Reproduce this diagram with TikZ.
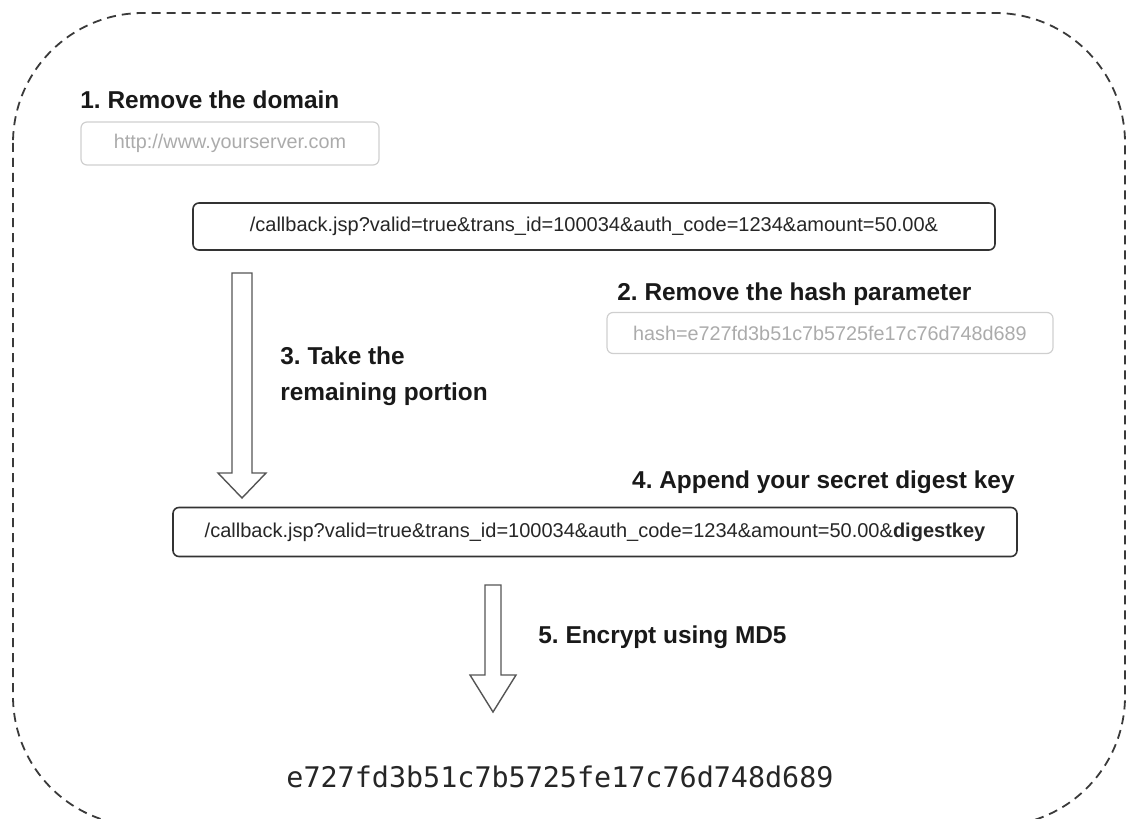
\documentclass[tikz,border=0pt]{standalone}
\usepackage{fontspec}
\setmainfont{Liberation Sans}
\newfontfamily\hashfont{DejaVu Sans Mono}
\usetikzlibrary{calc}
\frenchspacing

\definecolor{dashgray}{HTML}{3A3A3A}
\definecolor{boxdark}{HTML}{333333}
\definecolor{boxlight}{HTML}{CFCFCF}
\definecolor{textlight}{HTML}{ABABAB}
\definecolor{arrowgray}{HTML}{555555}

% hollow block arrow: top, tip, half shaft, half head, head length
\newcommand{\blockarrow}[5]{%
  \draw[hollow] ($(#1)+(-#3,0)$) -- ($(#2)+(-#3,-#5)$) -- ($(#2)+(-#4,-#5)$) -- (#2)
    -- ($(#2)+(#4,-#5)$) -- ($(#2)+(#3,-#5)$) -- ($(#1)+(#3,0)$) -- cycle;}

\begin{document}
\begin{tikzpicture}[
  x=0.5pt, y=-0.5pt,
  steplabel/.style={font=\fontsize{12.2}{18}\selectfont\bfseries, text=black!90, inner sep=0pt},
  urlbox/.style={rectangle, rounded corners=3pt, draw=boxdark, line width=0.8pt, font=\fontsize{10}{12}\selectfont, text=black!85},
  dropbox/.style={rectangle, rounded corners=3pt, draw=boxlight, line width=0.6pt, font=\fontsize{9.9}{12}\selectfont, text=textlight},
  hollow/.style={draw=arrowgray, line width=0.7pt, fill=white}
]
\useasboundingbox (0,0) rectangle (1127,818);
\draw[dashgray, line width=0.9pt, dash pattern=on 4.5pt off 3pt, rounded corners=65pt] (13,13) rectangle (1125,826);

\node[steplabel, anchor=base west] (domainlbl) at (80,109) {1. Remove the domain};
\node[dropbox, minimum width=149pt, minimum height=21.5pt] (domain) at (230,143.5) {http://www.yourserver.com};

\node[urlbox, minimum width=401pt, minimum height=23.5pt] (callback) at (594,226.5)
  {/callback.jsp?valid=true\&trans\_id=100034\&auth\_code=1234\&amount=50.00\&};

\node[steplabel, anchor=base west] (hashlbl) at (617,300) {2. Remove the hash parameter};
\node[dropbox, minimum width=223pt, minimum height=20.5pt] (hash) at (830,333) {hash=e727fd3b51c7b5725fe17c76d748d689};

\node[steplabel, anchor=base west, align=left] (takelbl) at (280,400) {3. Take the\\remaining portion};

\node[steplabel, anchor=base east] (appendlbl) at (1015,488) {4. Append your secret digest key};
\node[urlbox, minimum width=422pt, minimum height=24.5pt] (digest) at (595,532)
  {/callback.jsp?valid=true\&trans\_id=100034\&auth\_code=1234\&amount=50.00\&{\bfseries digestkey}};

\node[steplabel, anchor=base west] (md5lbl) at (538,643) {5. Encrypt using MD5};
\node[font=\fontsize{14.2}{16}\selectfont\hashfont, text=black!85] (result) at (560,777) {e727fd3b51c7b5725fe17c76d748d689};

\coordinate (take0) at (242,273);
\coordinate (take1) at (242,498);
\coordinate (md50) at (493,585);
\coordinate (md51) at (493,712);

\blockarrow{take0}{take1}{10}{24}{25}
\blockarrow{md50}{md51}{8}{23}{37}
\end{tikzpicture}
\end{document}
